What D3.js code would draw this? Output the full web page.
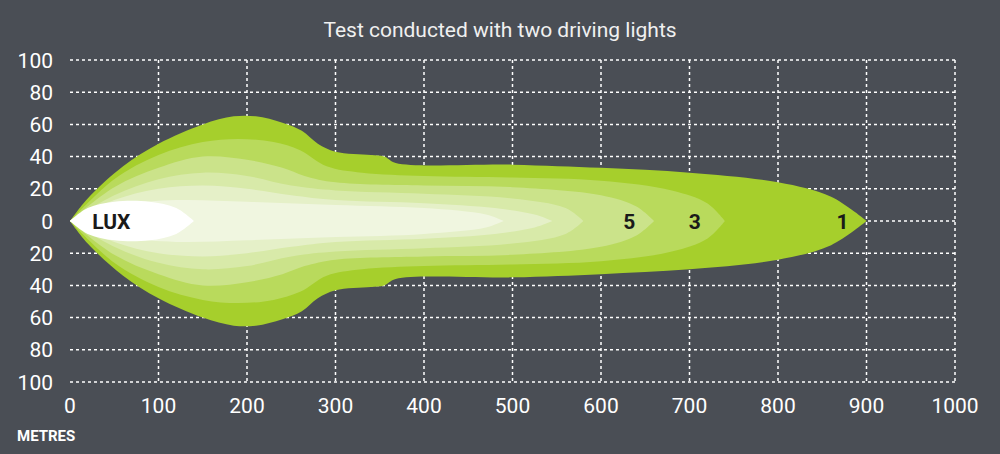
<!DOCTYPE html><html><head><meta charset="utf-8">
<script src="https://cdn.jsdelivr.net/npm/d3@7"></script>
<style>body{margin:0;background:#4a4e55}</style></head><body><svg id="c" width="1000" height="454"></svg>
<script>
const xTicks=[0,100,200,300,400,500,600,700,800,900,1000];
const yTicks=[100,80,60,40,20,0,-20,-40,-60,-80,-100];
const lux1=[[0,0],[20,14],[60,34],[100,48],[150,60],[185,65],[210,65],[240,61],[262,56],[280,48],[300,43],[340,41],[355,40],[368,36],[500,35],[600,33],[700,30],[800,24],[860,15],[900,0]];
const lux3=[[0,0],[50,26],[100,41],[150,49],[190,51],[230,49],[260,44],[290,34],[330,30],[400,28],[500,27],[600,25],[680,19],[720,11],[740,0]];
const lux5=[[0,0],[50,21],[100,33],[150,40],[200,38],[240,33],[265,28],[300,24],[400,22],[500,21],[600,16],[640,9],[660,0]];
const luxA=[[0,0],[50,16],[100,26],[150,30],[200,28],[250,22],[300,19],[400,17],[500,14],[560,8],[580,0]];
const luxB=[[0,0],[50,13],[100,20],[150,22],[200,20],[250,16],[300,13],[400,11],[480,8],[525,4],[545,0]];
const luxC=[[0,0],[60,10],[120,13],[200,12],[300,10],[400,8],[470,4],[490,0]];
const luxW=[[0,0],[20,8],[50,12],[90,12],[120,8],[140,0]];
const layers=[[lux1,"#a6cf2c"],[lux3,"#b9da5c"],[lux5,"#cbe38a"],[luxA,"#d8eaa9"],[luxB,"#e5f0c8"],[luxC,"#f0f6e0"],[luxW,"#ffffff"]];
const labels=[["5",632],["3",706],["1",873]];
const svg=d3.select("#c");
const x=d3.scaleLinear().domain([0,1000]).range([70,955]);
const y=d3.scaleLinear().domain([-100,100]).range([382,60]);
const tf="Roboto, sans-serif";
svg.append("text").attr("x",500).attr("y",37).attr("text-anchor","middle").attr("fill","#f0f0f0").attr("font-family",tf).attr("font-size",21).text("Test conducted with two driving lights");
const g=svg.append("g").attr("stroke","#fff").attr("stroke-width",1.5).attr("stroke-dasharray","3,3");
yTicks.forEach(t=>g.append("line").attr("x1",x(0)).attr("x2",x(1000)).attr("y1",y(t)).attr("y2",y(t)));
xTicks.slice(1).forEach(t=>g.append("line").attr("x1",x(t)).attr("x2",x(t)).attr("y1",y(100)).attr("y2",y(-100)));
const area=d3.area().curve(d3.curveCatmullRom).x(d=>x(d[0])).y0(d=>y(-d[1])).y1(d=>y(d[1]));
layers.forEach(([d,c])=>svg.append("path").attr("d",area(d)).attr("fill",c));
yTicks.forEach(t=>svg.append("text").attr("x",53).attr("y",y(t)+7.5).attr("text-anchor","end").attr("fill","#fff").attr("font-family",tf).attr("font-size",21).text(Math.abs(t)));
xTicks.forEach(t=>svg.append("text").attr("x",x(t)).attr("y",413).attr("text-anchor","middle").attr("fill","#fff").attr("font-family",tf).attr("font-size",21).text(t));
svg.append("text").attr("x",17).attr("y",441).attr("fill","#fff").attr("font-family",tf).attr("font-weight","bold").attr("font-size",15).text("METRES");
svg.append("text").attr("x",x(25)).attr("y",y(0)+8).attr("fill","#1a1a1a").attr("font-family",tf).attr("font-weight","bold").attr("font-size",21).text("LUX");
labels.forEach(([l,v])=>svg.append("text").attr("x",x(v)).attr("y",y(0)+8).attr("text-anchor","middle").attr("fill","#1a1a1a").attr("font-family",tf).attr("font-weight","bold").attr("font-size",21).text(l));
</script></body></html>
